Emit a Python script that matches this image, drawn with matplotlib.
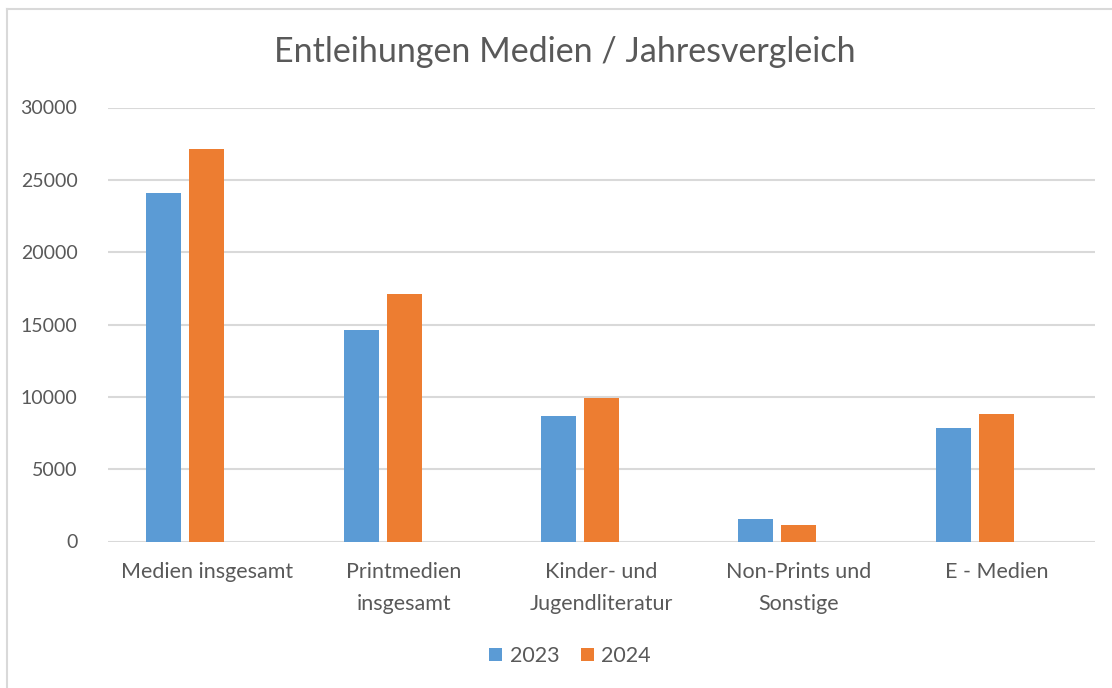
import numpy as np
import matplotlib.pyplot as plt
from matplotlib.lines import Line2D
from matplotlib.patches import Patch

plt.rcParams['font.family'] = ['Lato', 'DejaVu Sans']

kategorien = ['Medien insgesamt', 'Printmedien\ninsgesamt', 'Kinder- und\nJugendliteratur',
              'Non-Prints und\nSonstige', 'E - Medien']
werte_2023 = [24100, 14600, 8700, 1560, 7820]
werte_2024 = [27100, 17100, 9900, 1150, 8800]
yticks = [0, 5000, 10000, 15000, 20000, 25000, 30000]

blau = '#5B9BD5'
orange = '#ED7D31'
grau = '#595959'

fig = plt.figure(figsize=(11.12, 6.88), dpi=100)
ax = fig.add_axes([108/1112, 146.5/688, 987/1112, 434/688])

x = np.arange(len(kategorien)) + 0.5
breite = 0.177
ax.bar(x - 0.218, werte_2023, breite, color=blau, label='2023', zorder=3)
ax.bar(x, werte_2024, breite, color=orange, label='2024', zorder=3)

ax.set_xlim(0, len(kategorien))
ax.set_ylim(0, 30000)
ax.set_yticks(yticks)
ax.set_yticklabels([str(v) for v in yticks], fontsize=14, color=grau)
ax.set_xticks(x)
ax.set_xticklabels(kategorien, fontsize=15.5, color=grau, linespacing=1.7, va='top')
ax.tick_params(axis='y', length=0, pad=22)
ax.tick_params(axis='x', length=0, pad=15)
ax.grid(axis='y', color='#d9d9d9', linewidth=1.5, zorder=0)
for s in ax.spines.values():
    s.set_visible(False)

fig.text(565/1112, 1 - 52/688, 'Entleihungen Medien / Jahresvergleich', fontsize=24.5,
         color=grau, ha='center', va='center')

handles = [Patch(facecolor=blau, label='2023'), Patch(facecolor=orange, label='2024')]
fig.legend(handles=handles, loc='center', bbox_to_anchor=(570/1112, 1 - 656/688), ncol=2,
           frameon=False, fontsize=15.5, labelcolor=grau, handlelength=0.6, handleheight=0.6,
           handletextpad=0.35, columnspacing=1.0)

# Rahmen des Diagramms (links und oben sichtbar)
fig.add_artist(Line2D([7/1112, 7/1112], [0, 1 - 9/688], color='#d9d9d9', linewidth=1.5))
fig.add_artist(Line2D([7/1112, 1], [1 - 9/688, 1 - 9/688], color='#d9d9d9', linewidth=1.5))

fig.savefig('out.png', dpi=100)
